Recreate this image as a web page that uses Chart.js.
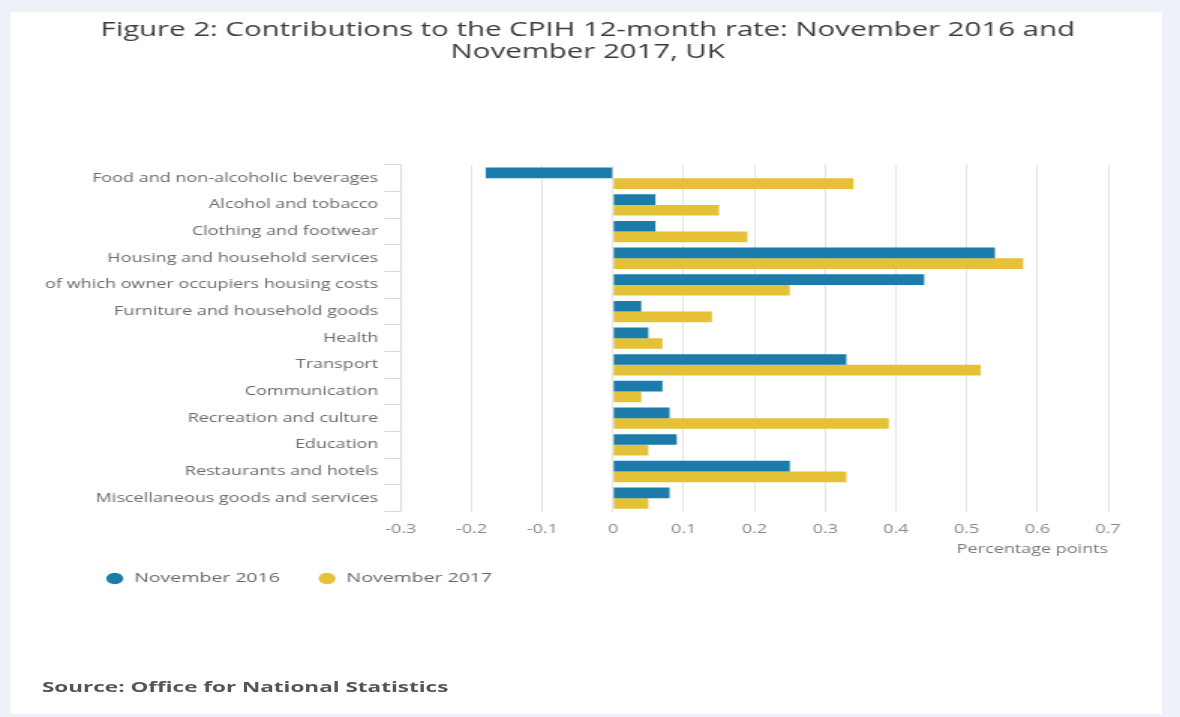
<!DOCTYPE html>
<html lang="en">
<head>
    <meta charset="UTF-8">
    <title>Contributions to the CPIH 12-month rate</title>
    <script src="https://cdn.jsdelivr.net/npm/chart.js"></script>
    <style>
        html, body {
            margin: 0;
            padding: 0;
            background: #eef1f7;
            overflow: hidden;
        }
        /* the page is laid out narrow and widened 1.5x */
        .stage {
            position: relative;
            width: 787px;
            height: 717px;
            transform: scaleX(1.4994);
            transform-origin: 0 0;
        }
        .card {
            position: absolute;
            left: 7px;
            top: 12px;
            width: 768px;
            height: 702px;
            background: #ffffff;
        }
        #chart {
            position: absolute;
            left: 0;
            top: 0;
        }
        .source {
            position: absolute;
            left: 28px;
            top: 676px;
            font-family: "Open Sans", sans-serif;
            font-weight: 700;
            font-size: 15px;
            color: #555555;
        }
    </style>
</head>
<body>
    <div class="stage">
        <div class="card"></div>
        <canvas id="chart" width="787" height="717"></canvas>
        <div class="source">Source: Office for National Statistics</div>
    </div>

    <script>
        const categories = [
            'Food and non-alcoholic beverages',
            'Alcohol and tobacco',
            'Clothing and footwear',
            'Housing and household services',
            'of which owner occupiers housing costs',
            'Furniture and household goods',
            'Health',
            'Transport',
            'Communication',
            'Recreation and culture',
            'Education',
            'Restaurants and hotels',
            'Miscellaneous goods and services'
        ];
        const nov2016 = [-0.18, 0.06, 0.06, 0.54, 0.44, 0.04, 0.05, 0.33, 0.07, 0.08, 0.09, 0.25, 0.08];
        const nov2017 = [0.34, 0.15, 0.19, 0.58, 0.25, 0.14, 0.07, 0.52, 0.04, 0.39, 0.05, 0.33, 0.05];
        const xMin = -0.3;
        const xMax = 0.7;
        const xStep = 0.1;

        const font = 'Open Sans';

        // the category labels are wider than the y axis box; move the box
        // to the canvas edge after layout so they are not clipped
        const unclipLabels = {
            id: 'unclipLabels',
            afterLayout(chart) {
                chart.scales.y.left = 0;
            }
        };

        new Chart(document.getElementById('chart'), {
            type: 'bar',
            data: {
                labels: categories,
                datasets: [
                    {
                        label: 'November 2016',
                        data: nov2016,
                        backgroundColor: '#1b7cab',
                        categoryPercentage: 0.8,
                        barPercentage: 1.0
                    },
                    {
                        label: 'November 2017',
                        data: nov2017,
                        backgroundColor: '#e5c136',
                        categoryPercentage: 0.8,
                        barPercentage: 1.0
                    }
                ]
            },
            plugins: [unclipLabels],
            options: {
                indexAxis: 'y',
                responsive: false,
                animation: false,
                devicePixelRatio: 1,
                layout: {
                    padding: { left: 45, right: 48, top: 0, bottom: 122 }
                },
                plugins: {
                    title: {
                        display: true,
                        text: ['Figure 2: Contributions to the CPIH 12-month rate: November 2016 and', 'November 2017, UK'],
                        color: '#3c3c3c',
                        font: { family: font, size: 19.6, weight: 'normal', lineHeight: 1.12 },
                        padding: { top: 19, bottom: 102 }
                    },
                    legend: {
                        position: 'bottom',
                        align: 'start',
                        labels: {
                            usePointStyle: true,
                            pointStyle: 'circle',
                            boxWidth: 16,
                            boxHeight: 8,
                            padding: 25,
                            color: '#666666',
                            font: { family: font, size: 13 }
                        }
                    },
                    tooltip: { enabled: false }
                },
                scales: {
                    x: {
                        min: xMin,
                        max: xMax,
                        ticks: {
                            stepSize: xStep,
                            padding: 11,
                            color: '#888888',
                            font: { family: font, size: 12 },
                            callback: v => String(+v.toFixed(1))
                        },
                        grid: {
                            color: '#e3e3e8',
                            drawTicks: false
                        },
                        border: { display: false },
                        title: {
                            display: true,
                            text: 'Percentage points',
                            align: 'end',
                            color: '#777777',
                            font: { family: font, size: 12 },
                            padding: { top: -5.6, bottom: -9.7 }
                        }
                    },
                    y: {
                        afterFit: scale => { scale.width = 222.3; },
                        ticks: {
                            padding: 4,
                            color: '#6a6a6a',
                            font: { family: font, size: 12 }
                        },
                        grid: {
                            offset: true,
                            drawOnChartArea: false,
                            tickLength: 11,
                            color: '#d6d8e0'
                        },
                        border: { display: true, color: '#d5d8e6' }
                    }
                }
            }
        });
    </script>
</body>
</html>
